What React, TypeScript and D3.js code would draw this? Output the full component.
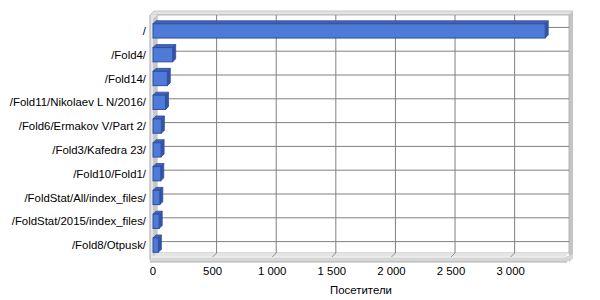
import React from "react";
import * as d3 from "d3";

const categories = [
  "/",
  "/Fold4/",
  "/Fold14/",
  "/Fold11/Nikolaev L N/2016/",
  "/Fold6/Ermakov V/Part 2/",
  "/Fold3/Kafedra 23/",
  "/Fold10/Fold1/",
  "/FoldStat/All/index_files/",
  "/FoldStat/2015/index_files/",
  "/Fold8/Otpusk/",
];
const visitors = [3290, 165, 120, 105, 70, 68, 65, 57, 52, 45];
const tickValues = [0, 500, 1000, 1500, 2000, 2500, 3000];
const axisTitle = "Посетители";

const W = 600;
const H = 300;
const D = 4; // depth offset
const X0 = 153;
const X1 = 565;
const Y0 = 19;
const Y1 = 257;

const fmt = d3.formatLocale({ decimal: ",", thousands: "\u00a0", grouping: [3], currency: ["", ""] }).format(",d");

export default function App() {
  const x = d3.scaleLinear().domain([0, 3456]).range([X0, X1]);
  const y = d3.scaleBand<string>().domain(categories).range([Y0, Y1]).padding(0);
  const step = y.step();
  const bh = step * 0.6;
  const font = "'Liberation Sans', Arial, sans-serif";
  const fs = 11.4;
  const bd = 3;

  return (
    <svg width={W} height={H} style={{ position: "absolute", left: 0, top: 0 }}>
      <rect x={0} y={0} width={W} height={H} fill="#ffffff" />
      {/* top thickness */}
      <polygon
        points={`${X0 - 3},${Y0 - D} ${X0 + D - 3},${Y0 - 2 * D} ${X1 + D + 4},${Y0 - 2 * D} ${X1 + D},${Y0 - D}`}
        fill="#e2e2e2"
        stroke="#c8c8c8"
        strokeWidth={1}
      />
      {/* right thickness */}
      <polygon
        points={`${X1 + D},${Y0 - D} ${X1 + D + 4},${Y0 - 2 * D} ${X1 + D + 4},${Y1 + 1} ${X1 + D},${Y1 + 5}`}
        fill="#c4c4c4"
      />
      {/* back wall */}
      <rect x={X0 + D} y={Y0 - D} width={X1 - X0} height={Y1 - Y0} fill="#ffffff" stroke="#b4b4b4" />
      {/* left wall */}
      <polygon
        points={`${X0 - 3},${Y0 - D} ${X0 + D},${Y0 - D} ${X0 + D},${Y1 - D} ${X0 - 3},${Y1 + 3}`}
        fill="#e6e6e6"
      />
      <polygon
        points={`${X0},${Y0} ${X0 + D},${Y0 - D} ${X0 + D},${Y1 - D} ${X0},${Y1}`}
        fill="#c8c8c8"
      />
      <line x1={X0 - 3} y1={Y0 - D} x2={X0 - 3} y2={Y1 + 3} stroke="#a8a8a8" />
      {/* floor */}
      <polygon
        points={`${X0},${Y1} ${X0 + D},${Y1 - D} ${X1 + D},${Y1 - D} ${X1},${Y1}`}
        fill="#e4e4e4"
      />
      <polygon
        points={`${X0 - 3},${Y1 + 3} ${X0},${Y1} ${X1},${Y1} ${X1 + D + 4},${Y1 - D + 1} ${X1 + D + 4},${Y1 + 1} ${X1 + 2},${Y1 + 5} ${X0 - 3},${Y1 + 5}`}
        fill="#d6d6d6"
      />
      <line x1={X0 - 3} y1={Y1 + 5} x2={X1 + 2} y2={Y1 + 5} stroke="#b0b0b0" />
      <line x1={X0} y1={Y1} x2={X1} y2={Y1} stroke="#f4f4f4" />
      {/* vertical gridlines */}
      {tickValues.map((v) => (
        <g key={"g" + v}>
          {v > 0 && (
            <line x1={x(v) + D} y1={Y0 - D} x2={x(v) + D} y2={Y1 - D} stroke="#808080" strokeWidth={1} />
          )}
          {v > 0 && <line x1={x(v) + D} y1={Y1 - D} x2={x(v)} y2={Y1} stroke="#909090" strokeWidth={1} />}
        </g>
      ))}
      {/* horizontal gridlines */}
      {categories.map((c) => {
        const cy = (y(c) as number) + step / 2 - D + 0.5;
        return <line key={"h" + c} x1={X0 + D} y1={cy} x2={X1 + D} y2={cy} stroke="#808080" strokeWidth={1} />;
      })}
      {/* bars */}
      {categories.map((c, i) => {
        const cy = (y(c) as number) + step / 2;
        const top = cy - bh / 2;
        const bot = cy + bh / 2;
        const xe = x(visitors[i]);
        return (
          <g key={"b" + c}>
            <polygon
              points={`${X0},${top} ${X0 + bd},${top - bd} ${xe + bd},${top - bd} ${xe},${top}`}
              fill="#3f63bd"
              stroke="#2f4e9e"
              strokeWidth={0.8}
            />
            <polygon
              points={`${xe},${top} ${xe + bd},${top - bd} ${xe + bd},${bot - bd} ${xe},${bot}`}
              fill="#3553a8"
              stroke="#2f4e9e"
              strokeWidth={0.8}
            />
            <rect x={X0} y={top} width={xe - X0} height={bh} fill="#4f7bd8" stroke="#2f4e9e" strokeWidth={1} />
          </g>
        );
      })}
      {/* category labels */}
      {categories.map((c) => (
        <text
          key={"l" + c}
          x={146}
          y={(y(c) as number) + step / 2 + 4}
          textAnchor="end"
          fontFamily={font}
          fontSize={fs}
          fill="#000"
        >
          {c}
        </text>
      ))}
      {/* tick labels */}
      {tickValues.map((v) => (
        <text key={"t" + v} x={x(v)} y={275} textAnchor="middle" fontFamily={font} fontSize={fs} fill="#000">
          {fmt(v)}
        </text>
      ))}
      <text x={(X0 + X1 + D) / 2} y={294} textAnchor="middle" fontFamily={font} fontSize={fs} fill="#000">
        {axisTitle}
      </text>
    </svg>
  );
}
